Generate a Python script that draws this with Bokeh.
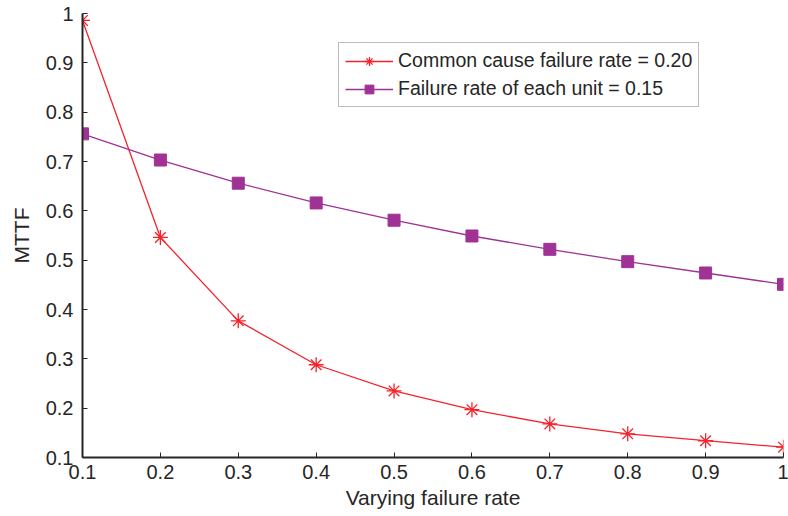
from bokeh.plotting import figure
from bokeh.models import FixedTicker, Legend, LegendItem
from bokeh.embed import file_html
from bokeh.resources import INLINE

x_vals = [0.1, 0.2, 0.3, 0.4, 0.5, 0.6, 0.7, 0.8, 0.9, 1.0]
common_cause = [0.986, 0.546, 0.377, 0.288, 0.235, 0.197, 0.168, 0.148, 0.134, 0.121]
each_unit = [0.756, 0.703, 0.656, 0.616, 0.581, 0.549, 0.522, 0.497, 0.474, 0.451]
x_ticks = [0.1, 0.2, 0.3, 0.4, 0.5, 0.6, 0.7, 0.8, 0.9, 1.0]
y_ticks = [0.1, 0.2, 0.3, 0.4, 0.5, 0.6, 0.7, 0.8, 0.9, 1.0]
tick_labels = ["0.1", "0.2", "0.3", "0.4", "0.5", "0.6", "0.7", "0.8", "0.9", "1"]

FONT = "Liberation Sans"
RED = "#f5222b"
PURPLE = "#a03296"

p = figure(width=788, height=512, output_backend="svg", toolbar_location=None,
           x_range=(0.1, 1.0), y_range=(0.1, 1.0),
           min_border_left=82, min_border_right=5, min_border_top=13, min_border_bottom=55)
p.outline_line_color = None
p.grid.visible = False

for ax, ticks in ((p.xaxis[0], x_ticks), (p.yaxis[0], y_ticks)):
    ax.ticker = FixedTicker(ticks=ticks)
    ax.major_label_overrides = {t: l for t, l in zip(ticks, tick_labels)}
    ax.minor_tick_line_color = None
    ax.major_tick_in = 5
    ax.major_tick_out = 0
    ax.major_tick_line_color = "#262626"
    ax.axis_line_color = "#262626"
    ax.axis_line_width = 2
    ax.major_label_text_font = FONT
    ax.major_label_text_font_size = "20px"
    ax.major_label_text_color = "#262626"
    ax.axis_label_text_font = FONT
    ax.axis_label_text_font_size = "21px"
    ax.axis_label_text_font_style = "normal"
    ax.axis_label_text_color = "#262626"

p.xaxis.axis_label = "Varying failure rate"
p.yaxis.axis_label = "MTTF"
p.xaxis.major_label_standoff = 7
p.yaxis.major_label_standoff = 9
p.xaxis.axis_label_standoff = 4
p.yaxis.axis_label_standoff = 10

r1l = p.line(x_vals, common_cause, line_color=RED, line_width=1.3)
r1m = p.scatter(x_vals, common_cause, marker="asterisk", size=15, line_color=RED, line_width=1.3)
r2l = p.line(x_vals, each_unit, line_color=PURPLE, line_width=1.3)
r2m = p.scatter(x_vals, each_unit, marker="square", size=12, fill_color=PURPLE, line_color=PURPLE)

legend = Legend(items=[
    LegendItem(label="Common cause failure rate = 0.20", renderers=[r1l, r1m]),
    LegendItem(label="Failure rate of each unit = 0.15", renderers=[r2l, r2m]),
], location=(256, 350))
legend.label_text_font = FONT
legend.label_text_font_size = "19.5px"
legend.label_text_color = "#262626"
legend.border_line_color = "#7a7a7a"
legend.border_line_width = 1
legend.glyph_width = 48
legend.label_height = 22
legend.glyph_height = 22
legend.label_standoff = 5
legend.padding = 6
legend.spacing = 5
legend.margin = 0
legend.background_fill_alpha = 1
p.add_layout(legend, "center")

open("out.html", "w").write(file_html(p, INLINE))
